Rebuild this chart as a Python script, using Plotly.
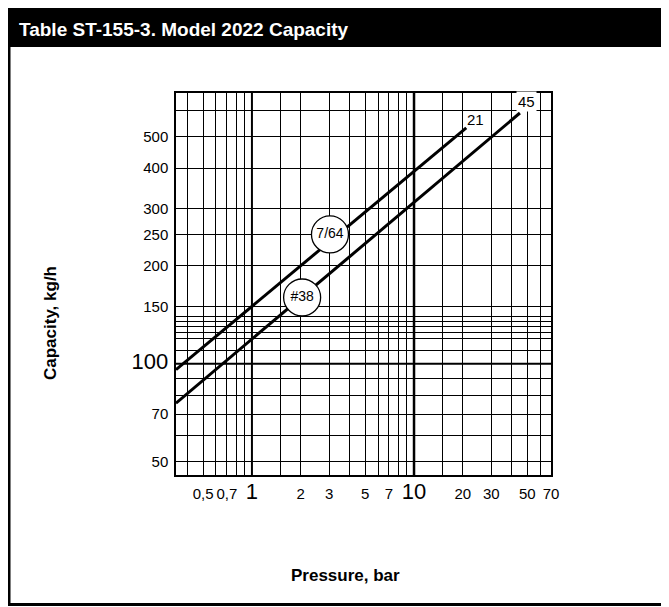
import numpy as np
import plotly.graph_objects as go

# ---------------- data ----------------
# Orifice lines: pressure (bar) vs capacity (kg/h), log-log straight lines
p_21 = [0.34, 21]
cap_21 = [96, 532]
p_45 = [0.34, 45]
cap_45 = [75.7, 591]

circle_labels = ["7/64", "#38"]
circle_p = [3.03, 2.04]
circle_cap = [250, 160]

end_labels = ["21", "45"]

x_grid = [0.4, 0.5, 0.6, 0.7, 0.8, 0.9, 1, 1.5, 2, 3, 4, 5, 6, 7, 8, 9,
          10, 15, 20, 30, 40, 50, 60, 70]
x_labels = {0.5: "0,5", 0.7: "0,7", 1: "1", 2: "2", 3: "3", 5: "5", 7: "7",
            10: "10", 20: "20", 30: "30", 50: "50", 70: "70"}
y_grid = [50, 60, 70, 80, 90, 100, 110, 120, 125, 130, 135, 140, 150,
          200, 250, 300, 400, 500, 600]
y_labels = {50: "50", 70: "70", 100: "100", 150: "150", 200: "200",
            250: "250", 300: "300", 400: "400", 500: "500"}
big_ticks = [1, 10, 100]

x_range = [0.34, 70]
y_range = [45.5, 681]

# ---------------- layout geometry (page pixel coords) ----------------
OFF = 8  # browser body margin
PAGE_W, PAGE_H = 669, 607
W, H = PAGE_W - OFF, PAGE_H - OFF
PL, PR, PT, PB = 176, 551, 93, 475

def px(x):
    return (x - PL) / (PR - PL)

def py(y):
    return (PB - y) / (PB - PT)

FONT = "Liberation Sans, Arial, Helvetica, sans-serif"


def fmt(v, lab):
    if v in big_ticks:
        return '<span style="font-size:22px">%s</span>' % lab
    return lab


xt = [fmt(v, x_labels.get(v, "")) for v in x_grid]
yt = [fmt(v, y_labels.get(v, "")) for v in y_grid]

fig = go.Figure()

fig.add_trace(go.Scatter(x=p_21, y=cap_21, mode="lines",
                         line=dict(color="black", width=3), showlegend=False))
fig.add_trace(go.Scatter(x=p_45, y=cap_45, mode="lines",
                         line=dict(color="black", width=3), showlegend=False))
fig.add_trace(go.Scatter(x=circle_p, y=circle_cap, mode="markers+text",
                         text=circle_labels, textposition="middle center",
                         textfont=dict(family=FONT, size=14, color="black"),
                         marker=dict(size=37, color="white",
                                     line=dict(color="black", width=1.3)),
                         showlegend=False))

shapes = []
for v in big_ticks[:2]:
    shapes.append(dict(type="line", xref="x", yref="paper", x0=v, x1=v, y0=0, y1=1,
                       line=dict(color="black", width=2.5 if v == 10 else 2), layer="below"))
shapes.append(dict(type="line", xref="paper", yref="y", x0=0, x1=1, y0=100, y1=100,
                   line=dict(color="black", width=2), layer="below"))
# title bar and frame
shapes.append(dict(type="rect", xref="paper", yref="paper",
                   x0=px(7), x1=px(672), y0=py(47), y1=py(5),
                   fillcolor="black", line=dict(width=0), layer="above"))
shapes.append(dict(type="rect", xref="paper", yref="paper",
                   x0=px(9), x1=px(667.5), y0=py(604.5), y1=py(6),
                   fillcolor="rgba(0,0,0,0)", line=dict(color="black", width=3),
                   layer="above"))

annotations = [
    dict(text="Table ST-155-3. Model 2022 Capacity", xref="paper", yref="paper",
         x=px(17), y=py(30), xanchor="left", yanchor="middle", showarrow=False,
         font=dict(family=FONT, size=19, color="white", weight="bold")),
    dict(text="Capacity, kg/h", xref="paper", yref="paper", x=px(50), y=py(323),
         textangle=-90, xanchor="center", yanchor="middle", showarrow=False,
         font=dict(family=FONT, size=17, color="black", weight="bold")),
    dict(text="Pressure, bar", xref="paper", yref="paper", x=px(345), y=py(575),
         xanchor="center", yanchor="middle", showarrow=False,
         font=dict(family=FONT, size=17, color="black", weight="bold")),
    dict(text=end_labels[0], xref="x", yref="y", x=np.log10(p_21[-1]),
         y=np.log10(cap_21[-1]), xshift=9, yshift=8, showarrow=False,
         font=dict(family=FONT, size=15, color="black")),
    dict(text=end_labels[1], xref="x", yref="y", x=np.log10(p_45[-1]),
         y=np.log10(cap_45[-1]), xshift=7, yshift=12, showarrow=False,
         bgcolor="white", borderpad=1,
         font=dict(family=FONT, size=15, color="black")),
]

fig.update_layout(
    width=W, height=H,
    margin=dict(l=PL - OFF, r=PAGE_W - PR, t=PT - OFF, b=PAGE_H - PB, autoexpand=False),
    paper_bgcolor="white", plot_bgcolor="white",
    shapes=shapes, annotations=annotations,
    xaxis=dict(type="log", range=[np.log10(x_range[0]), np.log10(x_range[1])],
               tickmode="array", tickvals=x_grid, ticktext=xt,
               showgrid=True, gridcolor="black", gridwidth=1.2,
               showline=True, mirror=True, linecolor="black", linewidth=1.5,
               ticks="", ticklabelstandoff=4, zeroline=False,
               tickfont=dict(family=FONT, size=15, color="black")),
    yaxis=dict(type="log", range=[np.log10(y_range[0]), np.log10(y_range[1])],
               tickmode="array", tickvals=y_grid, ticktext=yt,
               showgrid=True, gridcolor="black", gridwidth=1.2,
               showline=True, mirror=True, linecolor="black", linewidth=1.5,
               ticks="", ticklabelstandoff=3, zeroline=False,
               tickfont=dict(family=FONT, size=15, color="black")),
)

fig.write_html("out.html")
